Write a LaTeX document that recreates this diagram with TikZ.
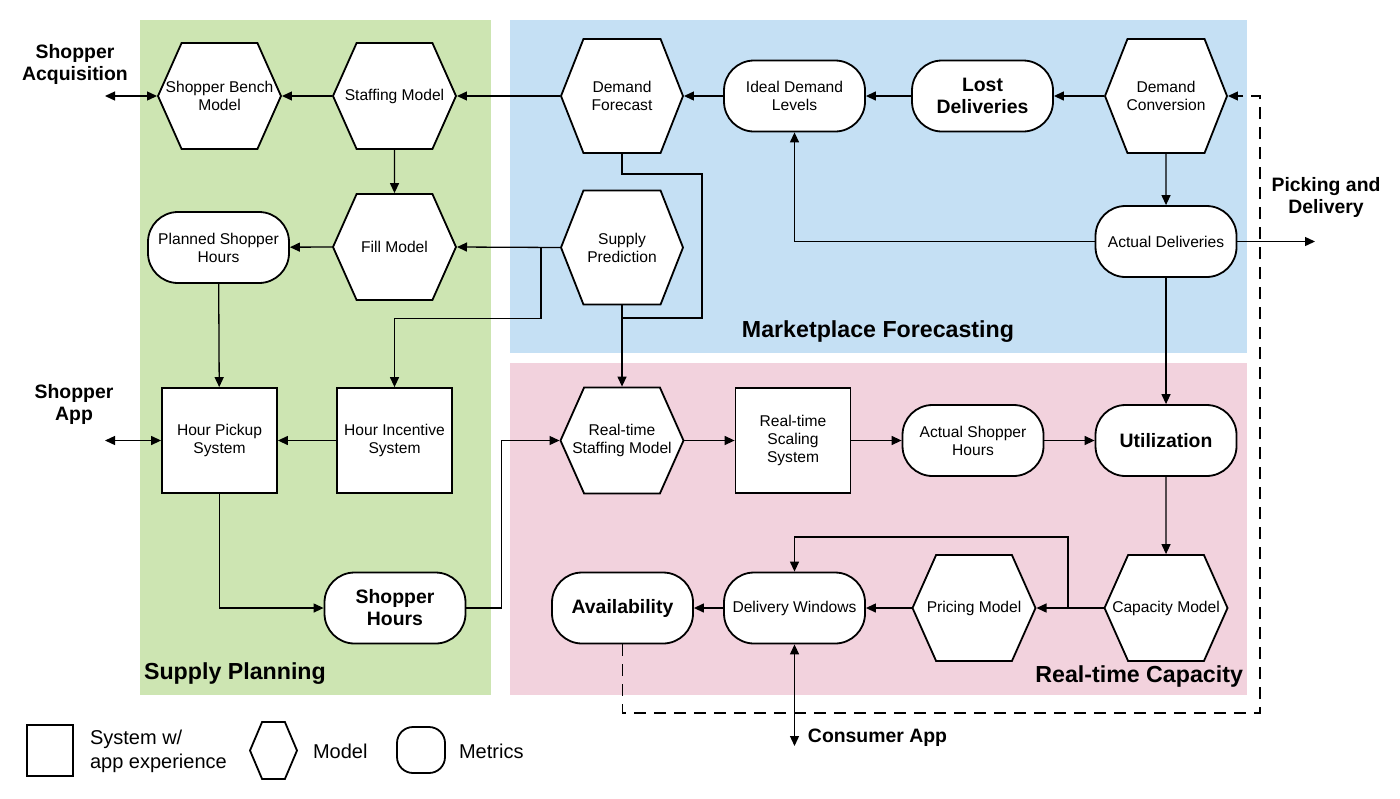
\documentclass[tikz,border=0pt]{standalone}
\usepackage{fontspec}
\setmainfont{Liberation Sans}
\usetikzlibrary{arrows.meta,shapes.symbols}

\definecolor{supplygreen}{RGB}{205,229,178}
\definecolor{marketblue}{RGB}{197,224,244}
\definecolor{capacitypink}{RGB}{242,210,221}

\newcommand{\plainfont}{\fontsize{7.8pt}{9pt}\selectfont}
\newcommand{\boldfont}{\fontsize{9.7pt}{11pt}\selectfont\bfseries}

\tikzset{
  hexa/.style={shape=signal, signal to=west and east, signal pointer angle=132, draw, line width=0.9pt, fill=white, minimum width=61.5pt, minimum height=53pt, inner xsep=-12pt, inner ysep=1pt, align=center, font=\plainfont},
  hexatall/.style={hexa, signal pointer angle=137, minimum width=61pt, minimum height=57pt},
  sysbox/.style={draw, line width=0.9pt, fill=white, minimum width=57.5pt, minimum height=52.5pt, align=center, font=\plainfont},
  metric/.style={draw, line width=0.9pt, fill=white, rounded corners=15pt, minimum width=70.5pt, minimum height=35.5pt, align=center, font=\plainfont},
  metricbold/.style={metric, font=\boldfont},
  outlabel/.style={align=center, font=\boldfont},
  region/.style={font=\fontsize{11.6pt}{13pt}\selectfont\bfseries},
  legendtext/.style={anchor=west, align=left, font=\fontsize{10pt}{12pt}\selectfont},
  link/.style={line width=0.65pt, -{Triangle[length=5pt,width=4.5pt]}},
  twoway/.style={line width=0.65pt, {Triangle[length=5pt,width=4.5pt]}-{Triangle[length=5pt,width=4.5pt]}}
}

\begin{document}
\begin{tikzpicture}[x=0.5pt,y=-0.5pt]
\useasboundingbox (0,0) rectangle (1400,798);

% regions
\fill[supplygreen] (140,20) rectangle (491,695);
\fill[marketblue] (510,20) rectangle (1247,353);
\fill[capacitypink] (510,363) rectangle (1247,695);
\node[region, anchor=west] (suptitle) at (137,674) {Supply Planning};
\node[region] (mkttitle) at (878,332) {Marketplace Forecasting};
\node[region, anchor=east] (captitle) at (1250,676) {Real-time Capacity};

% supply planning
\node[hexa] (sbm) at (219.5,96) {Shopper Bench\\Model};
\node[hexa] (stf) at (394.5,96) {Staffing Model};
\node[hexa] (fill) at (394.5,247) {Fill Model};
\node[metric] (psh) at (218.5,247.5) {Planned Shopper\\Hours};
\node[sysbox] (hps) at (219.5,440.5) {Hour Pickup\\System};
\node[sysbox] (his) at (394.5,440.5) {Hour Incentive\\System};
\node[metricbold] (shh) at (395,608) {Shopper\\Hours};

% marketplace forecasting
\node[hexatall] (dfc) at (622,96) {Demand\\Forecast};
\node[metric] (idl) at (794.5,96) {Ideal Demand\\Levels};
\node[metricbold] (lost) at (982.5,96) {Lost\\Deliveries};
\node[hexatall] (dcv) at (1166,96) {Demand\\Conversion};
\node[hexatall] (spr) at (622,247.5) {Supply\\Prediction};
\node[metric] (act) at (1166,241.5) {Actual Deliveries};

% real-time capacity
\node[hexa] (rsm) at (622,440.5) {Real-time\\Staffing Model};
\node[sysbox] (rss) at (793,440.5) {Real-time\\Scaling\\System};
\node[metric] (ash) at (973,440.5) {Actual Shopper\\Hours};
\node[metricbold] (util) at (1166,440.5) {Utilization};
\node[metricbold] (avail) at (622.5,608) {Availability};
\node[metric] (dwin) at (794.5,608) {Delivery Windows};
\node[hexa] (price) at (974,608) {Pricing Model};
\node[hexa] (cap) at (1166,608) {Capacity Model};

% outside labels
\node[outlabel] (acq) at (75,64) {Shopper\\Acquisition};
\node[outlabel] (app) at (74,404) {Shopper\\App};
\node[outlabel] (pick) at (1326,197) {Picking and\\Delivery};
\node[outlabel] (cons) at (877.5,738) {Consumer App};

\coordinate (acqend) at (105,96);
\coordinate (append) at (105,440.5);
\coordinate (pickend) at (1315,241.5);
\coordinate (consend) at (794.5,746);
\coordinate (spbr) at (541,247.5);
\coordinate (dfloop) at (702,318);
\coordinate (capbr) at (1068,608);
\coordinate (dcorner) at (1260,713);

% connectors
\draw[twoway] (acqend) -- (sbm.west);
\draw[link] (stf.west) -- (sbm.east);
\draw[link] (dfc.west) -- (stf.east);
\draw[link] (idl) -- (dfc.east);
\draw[link] (lost) -- (idl);
\draw[link] (dcv.west) -- (lost);
\draw[link] (dcv) -- (act);
\draw[link] (act.west) -| (idl.south);
\draw[link] (act.east) -- (pickend);
\draw[link] (act) -- (util);
\draw[link] (stf) -- (fill);
\draw[link] (spr.west) -- (fill.east);
\draw[link] (fill.west) -- (psh);
\draw[link] (psh) -- (hps);
\draw[link] (spbr) -- ++(0,71) -| (his.north);
\draw[link] (his) -- (hps);
\draw[twoway] (append) -- (hps);
\draw[link] (hps) |- (shh);
\draw[link] (shh.east) -- ++(35,0) |- (rsm.west);
\draw[line width=0.65pt] (dfc.south) -- ++(0,20) -| (dfloop) -- (dfloop -| dfc.south);
\draw[link] (spr.south) -- (rsm.north);
\draw[link] (rsm.east) -- (rss);
\draw[link] (rss) -- (ash);
\draw[link] (ash) -- (util);
\draw[link] (util) -- (cap);
\draw[link] (cap.west) -- (price.east);
\draw[link] (capbr) -- ++(0,-71) -| (dwin.north);
\draw[link] (price.west) -- (dwin);
\draw[link] (dwin) -- (avail);
\draw[twoway] (dwin) -- (consend);
\draw[link, dash pattern=on 6pt off 4pt] (avail.south) |- (dcorner) |- (dcv.east);

% legend
\node[sysbox, minimum width=23pt, minimum height=25.5pt] (legsys) at (50,750.5) {};
\node[legendtext] (legsystxt) at (83,751) {System w/\\app experience};
\node[hexa, signal pointer angle=134, minimum width=23.5pt, minimum height=28.5pt] (leghex) at (273.5,750.5) {};
\node[legendtext] (leghextxt) at (306,751) {Model};
\node[metric, rounded corners=8pt, minimum width=24pt, minimum height=23pt] (legmet) at (421,750) {};
\node[legendtext] (legmettxt) at (452,751) {Metrics};
\end{tikzpicture}
\end{document}
